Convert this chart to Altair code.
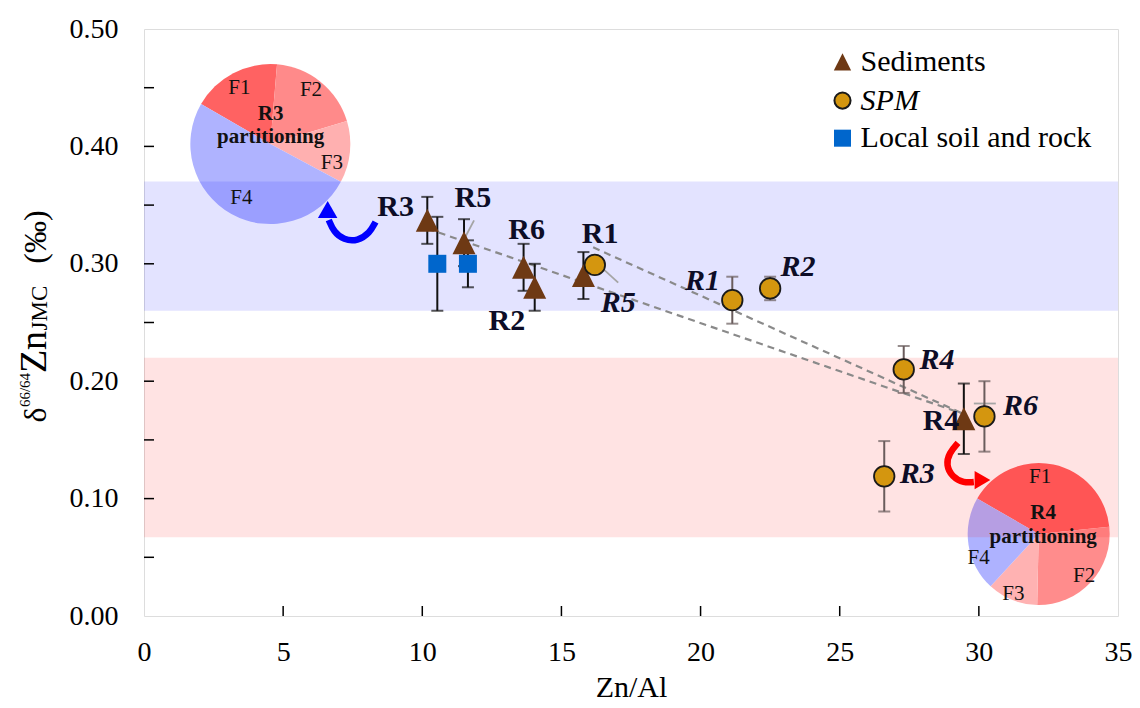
import math
import altair as alt
import pandas as pd

SERIF = "Liberation Serif"

# ---------------- data ----------------
sed_labels = ["R3", "R5", "R6", "R2", "R1", "R4"]
sed_x = [10.18, 11.50, 13.64, 14.04, 15.79, 29.46]
sed_y = [0.337, 0.318, 0.297, 0.280, 0.290, 0.168]
sed_err = [0.020, 0.020, 0.020, 0.020, 0.020, 0.030]

spm_labels = ["R5", "R1", "R2", "R4", "R6", "R3"]
spm_x = [16.20, 21.14, 22.50, 27.30, 30.20, 26.60]
spm_y = [0.299, 0.269, 0.279, 0.210, 0.170, 0.119]
spm_err = [0.005, 0.020, 0.010, 0.020, 0.030, 0.030]

soil_x = [10.54, 11.64]
soil_y = [0.300, 0.300]
soil_err = [0.040, 0.020]

band_lo = [0.26, 0.067]
band_hi = [0.37, 0.22]
band_colors = ["#0000FF", "#FF0000"]

fractions = ["F1", "F2", "F3", "F4"]
r3_part = [18.0, 19.0, 12.5, 50.5]
r4_part = [40.0, 27.0, 11.5, 21.5]
r3_colors = ["#FF6262", "#FF8A8A", "#FFB0B0", "#AFB3FF"]
r4_colors = ["#FF6060", "#FF8C8C", "#FFB2B2", "#AEB2FF"]

x_ticks = [0, 5, 10, 15, 20, 25, 30, 35]
y_ticks = [0.0, 0.1, 0.2, 0.3, 0.4, 0.5]
y_minor = [0.05, 0.10, 0.15, 0.20, 0.25, 0.30, 0.35, 0.40, 0.45]
x_minor = [5, 10, 15, 20, 25, 30]

# mixing lines (start -> sediment R4)
mix_x1 = [10.18, 16.14]
mix_y1 = [0.330, 0.314]
mix_x2 = [29.46, 29.46]
mix_y2 = [0.172, 0.172]

# leader lines
lead_x1 = [11.86, 16.25, 16.25, 29.82, 30.18]
lead_y1 = [0.337, 0.301, 0.301, 0.181, 0.181]
lead_x2 = [11.46, 17.04, 15.82, 30.61, 30.18]
lead_y2 = [0.319, 0.284, 0.289, 0.181, 0.170]

# annotation labels
sedlab_text = ["R3", "R5", "R6", "R1", "R2", "R4"]
sedlab_x = [9.04, 11.82, 13.75, 16.39, 13.04, 28.64]
sedlab_y = [0.348, 0.356, 0.329, 0.325, 0.251, 0.166]

spmlab_text = ["R1", "R2", "R5", "R4", "R6", "R3"]
spmlab_x = [20.07, 23.50, 17.04, 28.50, 31.50, 27.79]
spmlab_y = [0.285, 0.297, 0.267, 0.218, 0.179, 0.121]

# pie geometry
pie_names = ["R3", "R4"]
pie_cx = [4.54, 32.15]
pie_cy = [0.402, 0.0698]
pie_r = [80, 71]
pie_lab_x = [[3.43, 6.00, 6.75, 3.50], [32.20, 33.78, 31.24, 29.99]]
pie_lab_y = [[0.450, 0.448, 0.386, 0.356], [0.118, 0.034, 0.019, 0.049]]
pie_title_x = [4.55, 32.31]
pie_title_y = [0.428, 0.088]
pie_part_y = [0.408, 0.067]

# curved arrows
blue_arrow_x = [8.32, 8.11, 7.68, 7.18, 6.82, 6.64]
blue_arrow_y = [0.3356, 0.3262, 0.3194, 0.3203, 0.3271, 0.3373]
blue_head = (6.60, 0.3462)
red_arrow_x = [29.25, 28.93, 28.82, 29.04, 29.46, 29.82]
red_arrow_y = [0.1474, 0.1388, 0.1286, 0.1184, 0.1133, 0.1141]
red_head = (30.13, 0.1158)

# legend
leg_text = ["Sediments", "SPM", "Local soil and rock"]
leg_sym_x = 25.1
leg_sym_y = [0.472, 0.439, 0.407]
leg_text_x = 25.75

# ---------------- helpers ----------------
W, H = 974, 587
xs = alt.Scale(domain=[0, 35], nice=False, zero=False)
ys = alt.Scale(domain=[0, 0.5], nice=False, zero=False)
xaxis = alt.Axis(values=x_ticks, title="Zn/Al", ticks=False, domain=False, grid=False,
                 labelFont=SERIF, labelFontSize=28, labelColor="black", labelPadding=22,
                 labelFlush=False, titleFont=SERIF, titleFontSize=30, titleFontWeight="normal",
                 titleColor="black", titlePadding=6)
yaxis = alt.Axis(values=y_ticks, format=".2f", title="", ticks=False, domain=False, grid=False,
                 labelFont=SERIF, labelFontSize=28, labelColor="black", labelPadding=26,
                 labelFlush=False)


def X(f):
    return alt.X(f, type="quantitative", scale=xs, axis=xaxis)


def Y(f):
    return alt.Y(f, type="quantitative", scale=ys, axis=yaxis)


TRI = "M0,-1L1,1L-1,1Z"
layers = []

# pies
theta_scale = alt.Scale(range=[-math.pi / 3, 5 * math.pi / 3])
for k, (part, cols) in enumerate([(r3_part, r3_colors), (r4_part, r4_colors)]):
    df = pd.DataFrame({"frac": fractions, "v": part, "i": [0, 1, 2, 3], "c": cols,
                       "cx": [pie_cx[k]] * 4, "cy": [pie_cy[k]] * 4})
    layers.append(alt.Chart(df).mark_arc(radius=pie_r[k]).encode(
        x=X("cx"), y=Y("cy"),
        theta=alt.Theta("v:Q", stack=True, scale=theta_scale),
        order=alt.Order("i:Q"),
        color=alt.Color("c:N", scale=None)))

# bands
bands = pd.DataFrame({"lo": band_lo, "hi": band_hi, "c": band_colors})
layers.append(alt.Chart(bands).mark_rect(opacity=0.11).encode(
    x=alt.value(0), x2=alt.value(W), y=Y("lo"), y2=alt.Y2("hi"),
    color=alt.Color("c:N", scale=None)))

# mixing lines
mix = pd.DataFrame({"x1": mix_x1, "y1": mix_y1, "x2": mix_x2, "y2": mix_y2})
layers.append(alt.Chart(mix).mark_rule(color="#8A8A8A", strokeWidth=2.2, strokeDash=[7, 5]).encode(
    x=X("x1"), y=Y("y1"), x2=alt.X2("x2"), y2=alt.Y2("y2")))

# leader lines
lead = pd.DataFrame({"x1": lead_x1, "y1": lead_y1, "x2": lead_x2, "y2": lead_y2})
layers.append(alt.Chart(lead).mark_rule(color="#A5A5A5", strokeWidth=1.8).encode(
    x=X("x1"), y=Y("y1"), x2=alt.X2("x2"), y2=alt.Y2("y2")))


def errbars(xv, yv, ev, color, w=2):
    df = pd.DataFrame({"x": xv, "lo": [a - b for a, b in zip(yv, ev)],
                       "hi": [a + b for a, b in zip(yv, ev)]})
    rule = alt.Chart(df).mark_rule(color=color, strokeWidth=w).encode(
        x=X("x"), y=Y("lo"), y2=alt.Y2("hi"))
    caps = alt.Chart(df).transform_fold(["lo", "hi"], as_=["k", "v"]).mark_tick(
        orient="horizontal", color=color, size=12, thickness=w).encode(x=X("x"), y=Y("v"))
    return [rule, caps]


layers += errbars(soil_x, soil_y, soil_err, "#111111")
layers += errbars(sed_x, sed_y, sed_err, "#111111")
layers += errbars(spm_x, spm_y, spm_err, "#6A5C5C")

# points
soil = pd.DataFrame({"x": soil_x, "y": soil_y})
layers.append(alt.Chart(soil).mark_point(shape="square", filled=True, color="#0066CC",
                                         size=324, opacity=1).encode(x=X("x"), y=Y("y")))
sed = pd.DataFrame({"x": sed_x, "y": sed_y, "lab": sed_labels})
layers.append(alt.Chart(sed).mark_point(shape=TRI, filled=True, color="#6E3914",
                                        size=529, opacity=1).encode(x=X("x"), y=Y("y")))
spm = pd.DataFrame({"x": spm_x, "y": spm_y, "lab": spm_labels})
layers.append(alt.Chart(spm).mark_point(shape="circle", filled=True, fill="#D4960F",
                                        stroke="#1A1A1A", strokeWidth=1.8, size=420,
                                        opacity=1).encode(x=X("x"), y=Y("y")))

# labels
sl = pd.DataFrame({"t": sedlab_text, "x": sedlab_x, "y": sedlab_y})
layers.append(alt.Chart(sl).mark_text(font=SERIF, fontSize=30, fontWeight="bold",
                                      color="#0D0D26", baseline="middle").encode(
    x=X("x"), y=Y("y"), text="t:N"))
pl = pd.DataFrame({"t": spmlab_text, "x": spmlab_x, "y": spmlab_y})
layers.append(alt.Chart(pl).mark_text(font=SERIF, fontSize=30, fontWeight="bold",
                                      fontStyle="italic", color="#0D0D26",
                                      baseline="middle").encode(
    x=X("x"), y=Y("y"), text="t:N"))

# pie labels
for k in range(2):
    fl = pd.DataFrame({"t": fractions, "x": pie_lab_x[k], "y": pie_lab_y[k]})
    layers.append(alt.Chart(fl).mark_text(font=SERIF, fontSize=21, color="#111111",
                                          baseline="middle").encode(
        x=X("x"), y=Y("y"), text="t:N"))
    tl = pd.DataFrame({"t": [pie_names[k], "partitioning"],
                       "x": [pie_title_x[k], pie_title_x[k]],
                       "y": [pie_title_y[k], pie_part_y[k]]})
    layers.append(alt.Chart(tl).mark_text(font=SERIF, fontSize=21, fontWeight="bold",
                                          color="#111111", baseline="middle").encode(
        x=X("x"), y=Y("y"), text="t:N"))

# arrows
for ax_, ay_, head, col, shp, hs in [
        (blue_arrow_x, blue_arrow_y, blue_head, "#0000FF", "triangle-up", 380),
        (red_arrow_x, red_arrow_y, red_head, "#FF0000", "triangle-right", 330)]:
    adf = pd.DataFrame({"x": ax_, "y": ay_, "i": list(range(len(ax_)))})
    layers.append(alt.Chart(adf).mark_line(color=col, strokeWidth=6.5, interpolate="basis",
                                           strokeCap="butt").encode(
        x=X("x"), y=Y("y"), order=alt.Order("i:Q")))
    hdf = pd.DataFrame({"x": [head[0]], "y": [head[1]]})
    layers.append(alt.Chart(hdf).mark_point(shape=shp, filled=True, color=col, size=hs,
                                            opacity=1).encode(x=X("x"), y=Y("y")))

# legend
l1 = pd.DataFrame({"x": [leg_sym_x], "y": [leg_sym_y[0]]})
layers.append(alt.Chart(l1).mark_point(shape=TRI, filled=True, color="#6E3914", size=300,
                                       opacity=1).encode(x=X("x"), y=Y("y")))
l2 = pd.DataFrame({"x": [leg_sym_x], "y": [leg_sym_y[1]]})
layers.append(alt.Chart(l2).mark_point(shape="circle", filled=True, fill="#D4960F",
                                       stroke="#1A1A1A", strokeWidth=2, size=260,
                                       opacity=1).encode(x=X("x"), y=Y("y")))
l3 = pd.DataFrame({"x": [leg_sym_x], "y": [leg_sym_y[2]]})
layers.append(alt.Chart(l3).mark_point(shape="square", filled=True, color="#0066CC", size=290,
                                       opacity=1).encode(x=X("x"), y=Y("y")))
lt = pd.DataFrame({"t": [leg_text[0], leg_text[2]], "x": [leg_text_x] * 2,
                   "y": [leg_sym_y[0], leg_sym_y[2]]})
layers.append(alt.Chart(lt).mark_text(font=SERIF, fontSize=30, color="black", align="left",
                                      baseline="middle").encode(x=X("x"), y=Y("y"), text="t:N"))
lti = pd.DataFrame({"t": [leg_text[1]], "x": [leg_text_x], "y": [leg_sym_y[1]]})
layers.append(alt.Chart(lti).mark_text(font=SERIF, fontSize=30, fontStyle="italic", color="black",
                                       align="left", baseline="middle").encode(
    x=X("x"), y=Y("y"), text="t:N"))

# inward ticks
yt = pd.DataFrame({"v": y_minor})
layers.append(alt.Chart(yt).mark_rule(color="black", strokeWidth=1.5).encode(
    y=Y("v"), x=alt.value(0), x2=alt.value(10)))
xt = pd.DataFrame({"v": x_minor})
layers.append(alt.Chart(xt).mark_rule(color="black", strokeWidth=1.5).encode(
    x=X("v"), y=alt.value(H), y2=alt.value(H - 10)))

# y-axis title pieces (rotated)
one = pd.DataFrame({"a": [0]})
for txt, px, py, fs in [("δ", -98, 386, 32), ("66/64", -114, 361, 15), ("Zn", -98, 323, 38),
                        ("JMC", -97, 279, 23), ("(‰)", -98, 208, 32)]:
    layers.append(alt.Chart(one).mark_text(font=SERIF, fontSize=fs, color="black", angle=270,
                                           align="center", baseline="alphabetic").encode(
        x=alt.value(px), y=alt.value(py), text=alt.value(txt)))

chart = alt.layer(*layers).properties(
    width=W, height=H,
    autosize=alt.AutoSizeParams(type="none"),
    padding={"left": 136, "top": 21, "right": 14, "bottom": 88},
).configure_view(stroke="black", strokeWidth=1.5).configure(font=SERIF)

chart.save("out.html", embed_options={"renderer": "svg", "actions": False})
